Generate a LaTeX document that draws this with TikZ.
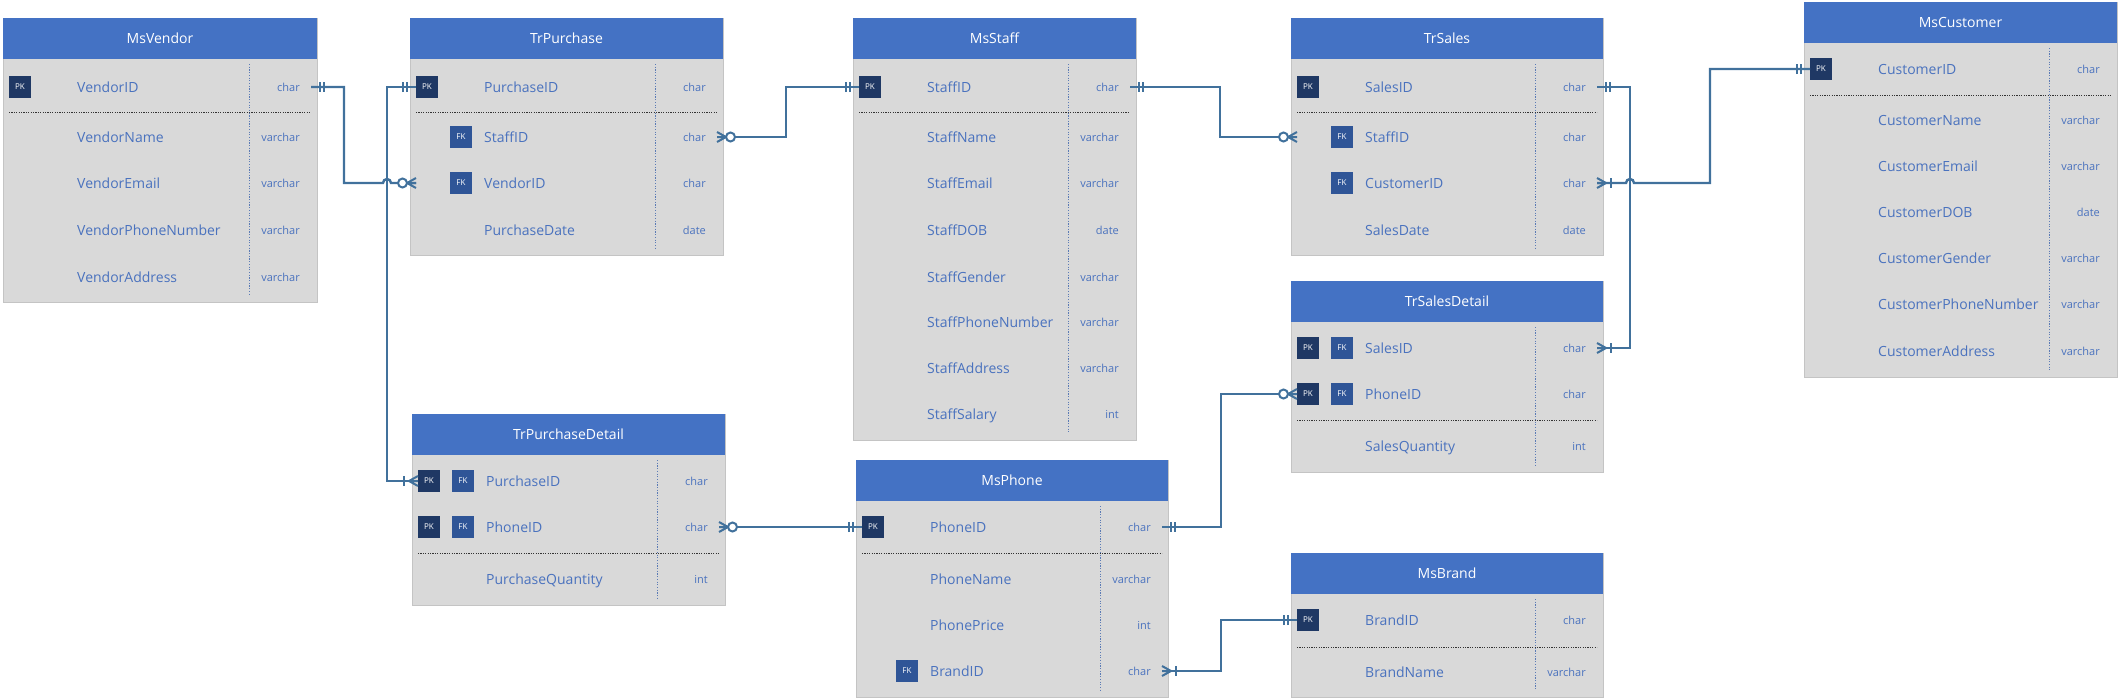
\documentclass[tikz,border=0pt]{standalone}
\usepackage{fontspec}
\setmainfont{Open Sans}
\usetikzlibrary{fit,calc}
\definecolor{hdrc}{HTML}{4472C4}
\definecolor{bodyc}{HTML}{D9D9D9}
\definecolor{borderc}{HTML}{C4C4C4}
\definecolor{txtc}{HTML}{4A72BE}
\definecolor{pkc}{HTML}{1F3864}
\definecolor{fkc}{HTML}{2F5597}
\definecolor{connc}{HTML}{41719C}
\definecolor{vsepc}{HTML}{5B7BB5}
\tikzset{
  conn/.style={draw=connc, line width=2.4pt},
  tbody/.style={fill=bodyc, draw=borderc, line width=0.8pt, inner sep=0pt, outer sep=0pt},
  thead/.style={fill=hdrc, inner sep=0pt, outer sep=0pt},
  htext/.style={text=white, font=\fontsize{14}{16}\selectfont, inner sep=0pt},
  fname/.style={anchor=west, text=txtc, font=\fontsize{14}{16}\selectfont, inner sep=0pt, text height=10pt, text depth=0pt},
  ftype/.style={anchor=east, text=txtc, font=\fontsize{11}{13}\selectfont, inner sep=0pt, text height=8pt, text depth=0pt},
  pkbox/.style={fill=pkc, text=white, minimum size=22pt, inner sep=0pt, font=\fontsize{8}{9}\selectfont},
  fkbox/.style={fill=fkc, text=white, minimum size=22pt, inner sep=0pt, font=\fontsize{8}{9}\selectfont},
  hsep/.style={draw=black!80, line width=0.7pt, dash pattern=on 1.2pt off 1.2pt},
  vsep/.style={draw=vsepc, line width=0.9pt, dash pattern=on 1.2pt off 1.5pt},
  erone/.pic={\draw[conn] (9,-5) -- (9,5) (13,-5) -- (13,5);},
  erzmany/.pic={\draw[conn, line width=2pt] (0,-5) -- (9,0) -- (0,5) (0,0) -- (9,0);
                \draw[conn, line width=2pt, fill=white] (13.5,0) circle[radius=4.5];},
  eromany/.pic={\draw[conn, line width=2pt] (0,-5) -- (9,0) -- (0,5) (0,0) -- (9,0);
                \draw[conn] (14,-5) -- (14,5);},
}
\newcommand\ertable[6]{% id, L, T, R, B, title
  \gdef\TI{#1}\gdef\TL{#2}\gdef\TR{#4}%
  \node[tbody, fit={(#2,#3) (#4,#5)}] (#1) {};
  \node[thead, fit={(#2,#3) (#4,{#3+41})}] (#1-h) {};
  \node[htext] (#1-t) at (#1-h.center) {#6};
  \draw[vsep] ({#4-68},{#3+46}) -- ({#4-68},{#5-7});
}
\newcommand\errow[4]{% key, y, name, type
  \node[fname] (\TI-#1) at ({\TL+74},#2) {#3};
  \node[ftype] (\TI-#1-ty) at ({\TR-17},#2) {#4};
  \coordinate (\TI-#1-l) at ({\TL+6},#2);
  \coordinate (\TI-#1-r) at ({\TR-6},#2);
}
\newcommand\erpk[2]{\node[pkbox] (\TI-#1-pk) at ({\TL+17},#2) {PK};}
\newcommand\erfk[2]{\node[fkbox] (\TI-#1-fk) at ({\TL+51},#2) {FK};}
\newcommand\ersep[1]{\draw[hsep] ({\TL+6},#1) -- ({\TR-6},#1);}
\begin{document}
\begin{tikzpicture}[x=1pt, y=-1pt]
\useasboundingbox (0,0) rectangle (2121,699);
% MsVendor
\ertable{vend}{3}{18}{317}{302}{MsVendor}
\errow{id}{87}{VendorID}{char}\erpk{id}{87}
\ersep{112}
\errow{name}{137}{VendorName}{varchar}
\errow{email}{183}{VendorEmail}{varchar}
\errow{phone}{230}{VendorPhoneNumber}{varchar}
\errow{addr}{277}{VendorAddress}{varchar}
% TrPurchase
\ertable{tp}{410}{18}{723}{255}{TrPurchase}
\errow{pid}{87}{PurchaseID}{char}\erpk{pid}{87}
\ersep{112}
\errow{sid}{137}{StaffID}{char}\erfk{sid}{137}
\errow{vid}{183}{VendorID}{char}\erfk{vid}{183}
\errow{date}{230}{PurchaseDate}{date}
% MsStaff
\ertable{ms}{853}{18}{1136}{440}{MsStaff}
\errow{id}{87}{StaffID}{char}\erpk{id}{87}
\ersep{112}
\errow{name}{137}{StaffName}{varchar}
\errow{email}{183}{StaffEmail}{varchar}
\errow{dob}{230}{StaffDOB}{date}
\errow{gender}{277}{StaffGender}{varchar}
\errow{phone}{322}{StaffPhoneNumber}{varchar}
\errow{addr}{368}{StaffAddress}{varchar}
\errow{salary}{414}{StaffSalary}{int}
% TrSales
\ertable{ts}{1291}{18}{1603}{255}{TrSales}
\errow{id}{87}{SalesID}{char}\erpk{id}{87}
\ersep{112}
\errow{sid}{137}{StaffID}{char}\erfk{sid}{137}
\errow{cid}{183}{CustomerID}{char}\erfk{cid}{183}
\errow{date}{230}{SalesDate}{date}
% MsCustomer
\ertable{mc}{1804}{2}{2117}{377}{MsCustomer}
\errow{id}{69}{CustomerID}{char}\erpk{id}{69}
\ersep{95}
\errow{name}{120}{CustomerName}{varchar}
\errow{email}{166}{CustomerEmail}{varchar}
\errow{dob}{212}{CustomerDOB}{date}
\errow{gender}{258}{CustomerGender}{varchar}
\errow{phone}{304}{CustomerPhoneNumber}{varchar}
\errow{addr}{351}{CustomerAddress}{varchar}
% TrSalesDetail
\ertable{tsd}{1291}{281}{1603}{472}{TrSalesDetail}
\errow{sid}{348}{SalesID}{char}\erpk{sid}{348}\erfk{sid}{348}
\errow{phid}{394}{PhoneID}{char}\erpk{phid}{394}\erfk{phid}{394}
\ersep{420}
\errow{qty}{446}{SalesQuantity}{int}
% TrPurchaseDetail
\ertable{tpd}{412}{414}{725}{605}{TrPurchaseDetail}
\errow{pid}{481}{PurchaseID}{char}\erpk{pid}{481}\erfk{pid}{481}
\errow{phid}{527}{PhoneID}{char}\erpk{phid}{527}\erfk{phid}{527}
\ersep{553}
\errow{qty}{579}{PurchaseQuantity}{int}
% MsPhone
\ertable{mp}{856}{460}{1168}{697}{MsPhone}
\errow{id}{527}{PhoneID}{char}\erpk{id}{527}
\ersep{553}
\errow{name}{579}{PhoneName}{varchar}
\errow{price}{625}{PhonePrice}{int}
\errow{bid}{671}{BrandID}{char}\erfk{bid}{671}
% MsBrand
\ertable{mb}{1291}{553}{1603}{697}{MsBrand}
\errow{id}{620}{BrandID}{char}\erpk{id}{620}
\ersep{647}
\errow{name}{672}{BrandName}{varchar}
% trunk coordinates
\coordinate (vtrunk) at ($(vend-id-r)+(76,0)$);
\coordinate (strunk) at ($(ts-id-r)+(33,0)$);
% connectors
\draw[conn] (vend-id-r) -- ++(33,0) |- ($(tp-vid-l -| vtrunk)+(-4,0)$)
   arc[start angle=180, end angle=360, radius=4] -- (tp-vid-l);
\draw[conn] (tp-pid-l) -- (vtrunk) |- (tpd-pid-l);
\draw[conn] (tp-sid-r) -- ++(69,0) |- (ms-id-l);
\draw[conn] (ms-id-r) -- ++(90,0) |- (ts-sid-l);
\draw[conn] (ts-id-r) -- (strunk) |- (tsd-sid-r);
\draw[conn] (ts-cid-r) -- ($(ts-cid-r -| strunk)+(-4,0)$)
   arc[start angle=180, end angle=360, radius=4] -- ++(76,0) |- (mc-id-l);
\draw[conn] (tpd-phid-r) -- (mp-id-l);
\draw[conn] (mp-id-r) -- ++(59,0) |- (tsd-phid-l);
\draw[conn] (mp-bid-r) -- ++(59,0) |- (mb-id-l);
% markers
\pic at (vend-id-r) {erone};
\pic[rotate=180] at (tp-vid-l) {erzmany};
\pic[rotate=180] at (tp-pid-l) {erone};
\pic[rotate=180] at (tpd-pid-l) {eromany};
\pic at (tp-sid-r) {erzmany};
\pic[rotate=180] at (ms-id-l) {erone};
\pic at (ms-id-r) {erone};
\pic[rotate=180] at (ts-sid-l) {erzmany};
\pic at (ts-id-r) {erone};
\pic at (tsd-sid-r) {eromany};
\pic at (ts-cid-r) {eromany};
\pic[rotate=180] at (mc-id-l) {erone};
\pic at (tpd-phid-r) {erzmany};
\pic[rotate=180] at (mp-id-l) {erone};
\pic at (mp-id-r) {erone};
\pic[rotate=180] at (tsd-phid-l) {erzmany};
\pic at (mp-bid-r) {eromany};
\pic[rotate=180] at (mb-id-l) {erone};
\end{tikzpicture}
\end{document}
